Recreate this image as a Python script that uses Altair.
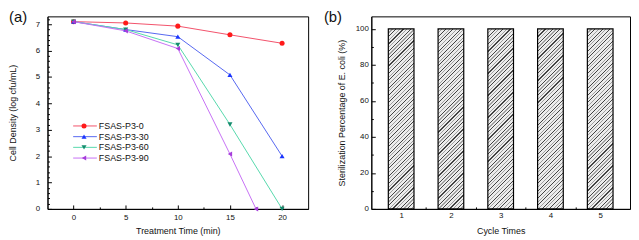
import altair as alt
import pandas as pd

FONT = "Liberation Sans"

# ---------------- data ----------------
series = ["FSAS-P3-0", "FSAS-P3-30", "FSAS-P3-60", "FSAS-P3-90"]
time_p0 = [0, 5, 10, 15, 20]
dens_p0 = [7.10, 7.05, 6.93, 6.60, 6.28]
time_p30 = [0, 5, 10, 15, 20]
dens_p30 = [7.10, 6.80, 6.53, 5.08, 2.00]
time_p60 = [0, 5, 10, 15, 20]
dens_p60 = [7.10, 6.80, 6.22, 3.20, 0.00]
time_p90 = [0, 5, 10, 15, 17.5]
dens_p90 = [7.10, 6.75, 6.08, 2.08, 0.00]

cycles = [1, 2, 3, 4, 5]
sterilization = [100, 100, 100, 100, 100]

x_ticks_a = [0, 2.5, 5, 7.5, 10, 12.5, 15, 17.5, 20]
y_ticks_a = [round(0.2 * k, 1) for k in range(37)]
x_ticks_b = [1, 1.5, 2, 2.5, 3, 3.5, 4, 4.5, 5]
y_ticks_b = [0, 10, 20, 30, 40, 50, 60, 70, 80, 90, 100]

# ---------------- styles ----------------
line_colors = ["#f2506a", "#5567f0", "#55d8ac", "#c670f5"]
point_colors = ["#ff1a1a", "#1a35ff", "#148c6e", "#a63ddb"]
shapes = ["circle", "triangle-up", "triangle-down", "triangle-left"]

rows = []
for name, ts, ds in zip(series, [time_p0, time_p30, time_p60, time_p90],
                        [dens_p0, dens_p30, dens_p60, dens_p90]):
    for t, d in zip(ts, ds):
        rows.append({"series": name, "time": t, "density": d})
df_a = pd.DataFrame(rows)

x_a = alt.X("time:Q", scale=alt.Scale(domain=[-2.5, 22.5], nice=False, zero=False),
            axis=alt.Axis(title="Treatment Time (min)", values=x_ticks_a,
                          labelExpr="datum.value % 5 ? '' : '' + datum.value",
                          tickSize={"expr": "datum.value % 5 ? -2 : -4"},
                          labelPadding=9, titlePadding=3))
y_a = alt.Y("density:Q", scale=alt.Scale(domain=[0, 7.3], nice=False, zero=False),
            axis=alt.Axis(title="Cell Density (log cfu/mL)", values=y_ticks_a,
                          labelExpr="datum.value % 1 ? '' : '' + datum.value",
                          tickSize={"expr": "datum.value % 1 ? -2 : -4"},
                          labelPadding=12, titlePadding=18))

line_scale = alt.Scale(domain=series, range=line_colors)
point_scale = alt.Scale(domain=series, range=point_colors)
shape_scale = alt.Scale(domain=series, range=shapes)

lines = alt.Chart(df_a).mark_line(strokeWidth=1).encode(
    x=x_a, y=y_a,
    color=alt.Color("series:N", scale=line_scale, legend=None),
    order="time:Q")
pts = alt.Chart(df_a).mark_point(filled=True, size=26, opacity=1).encode(
    x=x_a, y=y_a,
    color=alt.Color("series:N", scale=point_scale, legend=None),
    shape=alt.Shape("series:N", scale=shape_scale, legend=None))
data_layer = alt.layer(lines, pts).resolve_scale(color="independent")

df_leg = pd.DataFrame({"series": series})
y_leg = alt.Y("series:N", scale=alt.Scale(type="point", domain=series, range=[111, 143.5], padding=0),
              axis=None)
leg_line = alt.Chart(df_leg).mark_rule(strokeWidth=1).encode(
    x=alt.value(26), x2=alt.value(50), y=y_leg,
    color=alt.Color("series:N", scale=line_scale, legend=None))
leg_pt = alt.Chart(df_leg).mark_point(filled=True, size=26, opacity=1).encode(
    x=alt.value(37), y=y_leg,
    color=alt.Color("series:N", scale=point_scale, legend=None),
    shape=alt.Shape("series:N", scale=shape_scale, legend=None))
leg_txt = alt.Chart(df_leg).mark_text(align="left", baseline="middle", fontSize=9, font=FONT,
                                      color="#111").encode(
    x=alt.value(52), y=y_leg, text="series:N")

tag_a = alt.Chart(pd.DataFrame({"t": ["(a)"]})).mark_text(
    align="left", baseline="top", fontSize=15, font=FONT, color="#111").encode(
    x=alt.value(-39), y=alt.value(-6), text="t:N")

panel_a = alt.layer(data_layer, leg_line, leg_pt, leg_txt, tag_a).resolve_scale(
    y="independent", color="independent", shape="independent").properties(width=264, height=195)

# ---------------- panel b ----------------
bar_w, bar_h = 26.0, 195 * 100 / 107
gx = bar_w / bar_h
k = (gx + 1) / (gx * gx + 1)
stops = []
n_periods = 28
light, dark, mid = "#ececec", "#444444", "#a0a0a0"
pattern = [(0.0, dark), (0.16, dark), (0.16, light), (0.5, light),
           (0.5, mid), (0.66, mid), (0.66, light), (1.0, light)]
for i in range(n_periods):
    for off, col in pattern:
        stops.append({"offset": (i + off) / n_periods, "color": col})
hatch = {"gradient": "linear", "x1": 0, "y1": 0, "x2": gx * k, "y2": k, "stops": stops}

df_b = pd.DataFrame({"cycle": cycles, "pct": sterilization})
bars = alt.Chart(df_b).mark_bar(size=26, fill=hatch, stroke="black", strokeWidth=1.2).encode(
    x=alt.X("cycle:Q", scale=alt.Scale(domain=[0.5, 5.5], nice=False, zero=False),
            axis=alt.Axis(title="Cycle Times", values=x_ticks_b,
                          labelExpr="datum.value % 1 ? '' : '' + datum.value",
                          tickSize={"expr": "datum.value % 1 ? -2 : -4"},
                          labelPadding=7, titlePadding=5)),
    y=alt.Y("pct:Q", scale=alt.Scale(domain=[0, 107], nice=False),
            axis=alt.Axis(title="Sterilization Percentage of E. coli (%)", values=y_ticks_b,
                          labelExpr="datum.value % 20 ? '' : '' + datum.value",
                          tickSize={"expr": "datum.value % 20 ? -2 : -4"},
                          labelPadding=7, titlePadding=9)))
tag_b = alt.Chart(pd.DataFrame({"t": ["(b)"]})).mark_text(
    align="left", baseline="top", fontSize=15, font=FONT, color="#111").encode(
    x=alt.value(-48), y=alt.value(-6), text="t:N")
panel_b = alt.layer(bars, tag_b).properties(width=262, height=195)

chart = alt.hconcat(panel_a, panel_b, spacing=14).properties(padding=0).configure_view(
    stroke="black", strokeWidth=1
).configure_axis(
    domainColor="black", domainWidth=1, tickColor="black", tickWidth=1,
    labelFont=FONT, labelFontSize=8, labelColor="#111", labelFlush=False, labelOverlap=False,
    titleFont=FONT, titleFontSize=9, titleFontWeight="normal", titleColor="#111",
    grid=False, zindex=1
)

chart.save("out.html", embed_options={"renderer": "svg", "actions": False})
